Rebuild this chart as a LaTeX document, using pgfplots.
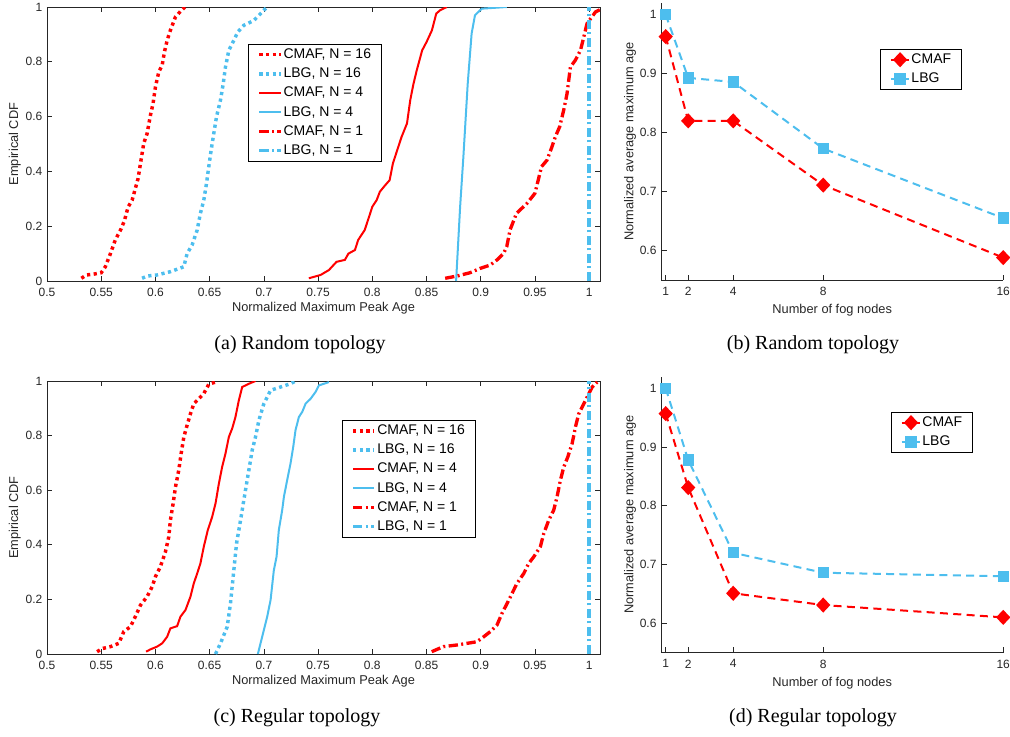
\documentclass[border=0pt]{standalone}
\usepackage{pgfplots}
\pgfplotsset{compat=1.18}
\usepackage{fontspec}
\setmainfont{Liberation Serif}
\newfontfamily\arial{Liberation Sans}
\definecolor{mred}{RGB}{255,0,0}
\definecolor{mblue}{HTML}{4DBEEE}
\definecolor{axgray}{HTML}{262626}

\pgfplotsset{
  base/.style={
    scale only axis,
    tick align=inside,
    axis line style={axgray, line width=0.6pt},
    every tick/.style={axgray, line width=0.5pt},
    major tick length=4pt,
    tick label style={text=axgray, font=\arial\fontsize{9}{11}\selectfont},
    xticklabel style={yshift=-1.8pt},
    label style={text=axgray, font=\arial\fontsize{9.6}{11}\selectfont},
    legend cell align=left,
    legend style={draw=black, line width=0.5pt, fill=white,
      font=\arial\fontsize{10.5}{12}\selectfont,
      nodes={inner sep=0.8pt, text height=7.8pt, text depth=2.2pt},
      row sep=2.8pt, inner xsep=7pt, inner ysep=2pt},
  },
  cdf/.style={base,
    width=414.75pt,
    xmin=0.5, xmax=1.01, ymin=0, ymax=1,
    xtick={0.5,0.55,0.6,0.65,0.7,0.75,0.8,0.85,0.9,0.95,1},
    xticklabels={0.5,0.55,0.6,0.65,0.7,0.75,0.8,0.85,0.9,0.95,1},
    ytick={0,0.2,0.4,0.6,0.8,1},
    yticklabels={0,0.2,0.4,0.6,0.8,1},
    xlabel={Normalized Maximum Peak Age},
    ylabel={Empirical CDF},
    xlabel style={at={(rel axis cs:0.5,-0.1)}, anchor=center},
    ylabel style={at={(rel axis cs:-0.058,0.5)}, anchor=center},
    legend image code/.code={\draw[##1] (0pt,0pt) -- (16pt,0pt);},
  },
  fog/.style={base,
    width=256.5pt,
    axis x line*=bottom, axis y line*=left,
    xmin=0.8, xmax=16, ymin=0.55, ymax=1.02,
    clip=false,
    xtick={1,2,4,8,16}, xticklabels={1,2,4,8,16},
    ytick={0.6,0.7,0.8,0.9,1}, yticklabels={0.6,0.7,0.8,0.9,1},
    xlabel={Number of fog nodes},
    ylabel={Normalized average maximum age},
    ylabel style={at={(rel axis cs:-0.091,0.5)}, anchor=center},
    legend image code/.code={\draw[##1,mark repeat=2,mark phase=2]
      plot coordinates {(0pt,0pt) (7pt,0pt) (14pt,0pt)};},
  },
  c16/.style={line width=2.6pt, dash pattern=on 2.4pt off 2.6pt},
  c4/.style={line width=1.5pt, solid},
  c1/.style={line width=2.5pt, dash pattern=on 7pt off 2.5pt on 1.5pt off 2.5pt},
  fogline/.style={line width=1.5pt, dash pattern=on 6pt off 4pt},
}

\begin{document}
\begin{tikzpicture}
\path[use as bounding box] (0pt,0pt) rectangle (757.5pt,-552pt);

% (a) random topology, CDF
\begin{axis}[cdf, at={(35.25pt,-5.25pt)}, anchor=north west, height=205.5pt,
  legend style={at={(0.3635,0.865)}, anchor=north west}]
\addplot[mred, c16] coordinates {
 (0.5317,0.01) (0.5363,0.022) (0.543,0.025) (0.550,0.03) (0.5538,0.052)
 (0.5585,0.10) (0.563,0.15) (0.5683,0.19) (0.5714,0.22) (0.5748,0.27)
 (0.5785,0.295) (0.5815,0.338) (0.584,0.374) (0.5862,0.429) (0.5892,0.502)
 (0.5923,0.538) (0.5954,0.605) (0.5978,0.648) (0.60,0.708) (0.6031,0.763)
 (0.6062,0.787) (0.6083,0.836) (0.6108,0.878) (0.6138,0.915) (0.6185,0.964)
 (0.6231,0.984) (0.6271,1.0)};
\addlegendentry{CMAF, N = 16}
\addplot[mblue, c16] coordinates {
 (0.5877,0.01) (0.5923,0.018) (0.6015,0.022) (0.6138,0.034) (0.6262,0.052)
 (0.6292,0.10) (0.6338,0.131) (0.6385,0.186) (0.6415,0.247) (0.6446,0.295)
 (0.6471,0.356) (0.6492,0.417) (0.6514,0.478) (0.6538,0.538) (0.6563,0.599)
 (0.66,0.66) (0.6625,0.72) (0.6646,0.781) (0.6677,0.842) (0.6723,0.878)
 (0.676,0.909) (0.6815,0.933) (0.6908,0.951) (0.70,0.988) (0.7031,1.0)};
\addlegendentry{LBG, N = 16}
\addplot[mred, c4] coordinates {
 (0.7415,0.01) (0.7523,0.022) (0.7600,0.04) (0.767,0.07) (0.7747,0.077)
 (0.778,0.10) (0.784,0.113) (0.787,0.15) (0.793,0.186) (0.797,0.234)
 (0.80,0.271) (0.804,0.295) (0.807,0.326) (0.812,0.35) (0.816,0.368)
 (0.819,0.429) (0.824,0.49) (0.827,0.526) (0.832,0.575) (0.835,0.66)
 (0.838,0.72) (0.841,0.769) (0.846,0.842) (0.85,0.872) (0.855,0.915)
 (0.859,0.976) (0.8625,0.988) (0.8687,1.0)};
\addlegendentry{CMAF, N = 4}
\addplot[mblue, c4] coordinates {
 (0.8773,0) (0.881,0.271) (0.884,0.453) (0.888,0.72) (0.8916,0.903)
 (0.8947,0.97) (0.901,0.994) (0.9241,1.0)};
\addlegendentry{LBG, N = 4}
\addplot[mred, c1] coordinates {
 (0.8672,0.01) (0.878,0.018) (0.89,0.03) (0.8995,0.046) (0.9087,0.058)
 (0.915,0.077) (0.921,0.10) (0.924,0.125) (0.927,0.186) (0.933,0.247)
 (0.9426,0.283) (0.950,0.32) (0.953,0.368) (0.956,0.417) (0.9611,0.441)
 (0.9657,0.49) (0.9688,0.526) (0.9728,0.563) (0.9765,0.623) (0.9796,0.684)
 (0.9827,0.781) (0.9873,0.806) (0.992,0.842) (0.995,0.89) (0.998,0.939)
 (1.0012,0.957) (1.0059,0.982) (1.0098,0.99) (1.012,1.0)};
\addlegendentry{CMAF, N = 1}
\addplot[mblue, c1] coordinates {(1,0) (1,1)};
\addlegendentry{LBG, N = 1}
\end{axis}

% (b) random topology, fog nodes
\begin{axis}[fog, at={(495.9pt,-2.25pt)}, anchor=north west, height=207.75pt,
  xlabel style={at={(rel axis cs:0.5,-0.108)}, anchor=center},
  legend style={at={(0.640,0.834)}, anchor=north west}]
\addplot[mred, fogline, mark=diamond*, mark size=4.6pt,
  mark options={solid, xscale=1.25, fill=mred}] coordinates {
 (1,0.963) (2,0.820) (4,0.820) (8,0.711) (16,0.588)};
\addlegendentry{CMAF}
\addplot[mblue, fogline, mark=square*, mark size=3.5pt,
  mark options={solid, fill=mblue}] coordinates {
 (1,1.0) (2,0.893) (4,0.886) (8,0.773) (16,0.655)};
\addlegendentry{LBG}
\end{axis}

% (c) regular topology, CDF
\begin{axis}[cdf, at={(35.25pt,-285.75pt)}, anchor=north west, height=204.75pt,
  legend style={at={(0.533,0.857)}, anchor=north west}]
\addplot[mred, c16] coordinates {
 (0.5462,0.0085) (0.551,0.02) (0.5585,0.027) (0.5662,0.039) (0.5708,0.082)
 (0.5769,0.10) (0.5815,0.137) (0.5862,0.179) (0.5923,0.21) (0.5969,0.246)
 (0.60,0.283) (0.6046,0.32) (0.6092,0.374) (0.6123,0.429) (0.6138,0.49)
 (0.6163,0.551) (0.6185,0.612) (0.6215,0.673) (0.6237,0.734) (0.6262,0.795)
 (0.6292,0.838) (0.6323,0.88) (0.6354,0.917) (0.64,0.935) (0.6446,0.954)
 (0.6492,0.988) (0.6554,0.996)};
\addlegendentry{CMAF, N = 16}
\addplot[mblue, c16] coordinates {
 (0.6554,0.0) (0.66,0.039) (0.6662,0.10) (0.6692,0.185) (0.6723,0.307)
 (0.6748,0.405) (0.6785,0.49) (0.6815,0.563) (0.6846,0.637) (0.6877,0.71)
 (0.6892,0.746) (0.6923,0.795) (0.6954,0.856) (0.70,0.917) (0.7062,0.966)
 (0.7154,0.978) (0.7246,0.99) (0.7292,1.0)};
\addlegendentry{LBG, N = 16}
\addplot[mred, c4] coordinates {
 (0.5914,0.0085) (0.5954,0.017) (0.6015,0.027) (0.6062,0.039) (0.6108,0.063)
 (0.6138,0.094) (0.62,0.102) (0.6231,0.137) (0.6277,0.161) (0.6323,0.21)
 (0.6354,0.259) (0.6385,0.295) (0.6415,0.332) (0.6446,0.393) (0.6483,0.454)
 (0.6523,0.502) (0.6554,0.551) (0.6585,0.624) (0.6615,0.685) (0.6646,0.734)
 (0.6677,0.795) (0.6708,0.826) (0.6738,0.868) (0.6769,0.929) (0.68,0.978)
 (0.6862,0.99) (0.6923,1.0)};
\addlegendentry{CMAF, N = 4}
\addplot[mblue, c4] coordinates {
 (0.6945,0.0) (0.6969,0.039) (0.70,0.088) (0.7031,0.137) (0.7062,0.198)
 (0.7092,0.307) (0.7117,0.356) (0.7138,0.454) (0.7169,0.527) (0.7185,0.576)
 (0.7215,0.637) (0.7246,0.698) (0.7271,0.759) (0.7292,0.82) (0.7323,0.868)
 (0.7354,0.887) (0.7385,0.917) (0.7431,0.935) (0.7477,0.96) (0.7508,0.984)
 (0.76,0.996)};
\addlegendentry{LBG, N = 4}
\addplot[mred, c1] coordinates {
 (0.8548,0.0085) (0.8656,0.027) (0.878,0.033) (0.8965,0.045) (0.9027,0.063)
 (0.9088,0.082) (0.915,0.106) (0.9196,0.149) (0.9243,0.185) (0.9289,0.222)
 (0.9335,0.259) (0.9397,0.295) (0.9443,0.332) (0.9489,0.356) (0.955,0.393)
 (0.9581,0.441) (0.9627,0.49) (0.9673,0.527) (0.9704,0.576) (0.9735,0.637)
 (0.9766,0.685) (0.9803,0.722) (0.9843,0.771) (0.9874,0.832) (0.9904,0.88)
 (0.9951,0.917) (0.9997,0.954) (1.0028,0.978) (1.0074,0.996)};
\addlegendentry{CMAF, N = 1}
\addplot[mblue, c1] coordinates {(1,0) (1,1)};
\addlegendentry{LBG, N = 1}
\end{axis}

% (d) regular topology, fog nodes
\begin{axis}[fog, at={(495.9pt,-282.45pt)}, anchor=north west, height=207pt,
  xlabel style={at={(rel axis cs:0.5,-0.11)}, anchor=center},
  legend style={at={(0.672,0.872)}, anchor=north west}]
\addplot[mred, fogline, mark=diamond*, mark size=4.6pt,
  mark options={solid, xscale=1.25, fill=mred}] coordinates {
 (1,0.957) (2,0.831) (4,0.651) (8,0.631) (16,0.61)};
\addlegendentry{CMAF}
\addplot[mblue, fogline, mark=square*, mark size=3.5pt,
  mark options={solid, fill=mblue}] coordinates {
 (1,1.0) (2,0.878) (4,0.72) (8,0.686) (16,0.68)};
\addlegendentry{LBG}
\end{axis}

\node[font=\fontsize{15}{18}\selectfont] at (225pt,-258.75pt) {(a) Random topology};
\node[font=\fontsize{15}{18}\selectfont] at (609.75pt,-258.75pt) {(b) Random topology};
\node[font=\fontsize{15}{18}\selectfont] at (222.75pt,-538.5pt) {(c) Regular topology};
\node[font=\fontsize{15}{18}\selectfont] at (609.75pt,-538.5pt) {(d) Regular topology};
\end{tikzpicture}
\end{document}
